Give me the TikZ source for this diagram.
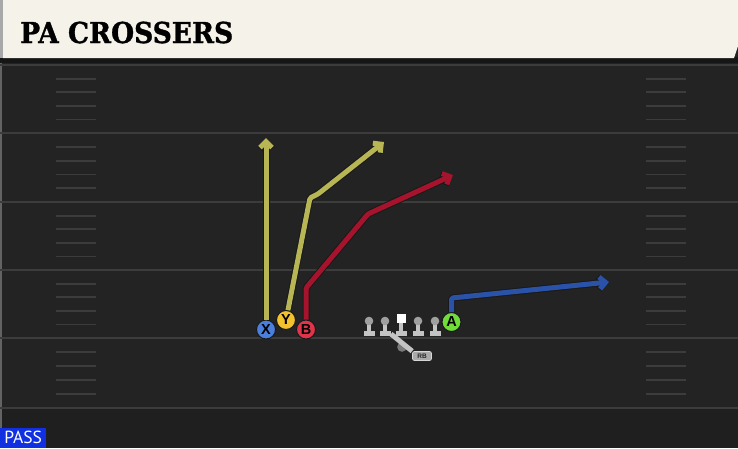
\documentclass[tikz,border=0pt]{standalone}
\usepackage{fontspec}
\newfontfamily\titlefont{DejaVu Serif}[FakeStretch=0.92,FakeBold=1.2]
\newfontfamily\passfont{PT Sans}
\newfontfamily\jerseyfont{Liberation Sans}
\usetikzlibrary{arrows.meta}

% one route = dark edge underneath, colour on top
\newcommand{\playroute}[2]{%
  \draw[routeedge] #2;
  \draw[routeline=#1] #2;}

\tikzset{
  player/.style={circle, draw=black!90, line width=1pt, minimum size=19pt, inner sep=0pt,
                 font=\jerseyfont\bfseries\fontsize{14.5}{14.5}\selectfont, text=black},
  routeedge/.style={line width=7pt, draw=black!90, line join=round, rounded corners=1.5pt,
                    -{Straight Barb[length=6pt,width=12pt]}},
  routeline/.style={line width=5pt, draw=#1, line join=round, rounded corners=1.5pt,
                    -{Straight Barb[length=6pt,width=12pt]}},
  yardline/.style={line width=2pt, draw=fld_line},
  hash/.style={line width=1.8pt, draw=fld_line},
  lineman/.pic={
    \fill[ol_body] (-2,0) rectangle (2,11);
    \fill[ol_body] (-5.5,10) rectangle (5.5,14.5);
    \fill[ol_head] (0,0) circle (4.3);},
  snapper/.pic={
    \fill[ol_body] (-2,1) rectangle (2,11);
    \fill[ol_body] (-5.5,10) rectangle (5.5,14.5);
    \fill[white] (-4.5,-7.5) rectangle (4.5,1.5);},
  rbtag/.style={rounded corners=2pt, fill=rb_tag, draw=rb_edge, line width=0.7pt,
                minimum width=19pt, minimum height=9pt, inner sep=0pt,
                font=\jerseyfont\bfseries\fontsize{6.5}{6.5}\selectfont, text=black!85},
  rbpath/.style={line width=5pt, draw=ol_body},
  passtag/.style={fill=pass_blue, text=white, minimum width=46pt, minimum height=20pt, inner sep=0pt,
                  font=\passfont\fontsize{17.5}{17.5}\selectfont},
}

\begin{document}
\begin{tikzpicture}[x=1pt,y=-1pt]

% ------------------------------------------------ playbook colors
\definecolor{fld_dark}{RGB}{35,35,35}      %#232323
\definecolor{fld_low}{RGB}{31,31,31}       %#1F1F1F
\definecolor{fld_line}{RGB}{60,60,60}      %#3C3C3C
\definecolor{hdr_cream}{RGB}{245,242,234}  %#F5F2EA
\definecolor{hdr_gray}{RGB}{168,168,168}   %#A8A8A8
\definecolor{hdr_shadow}{RGB}{22,22,22}    %#161616
\definecolor{rt_olive}{RGB}{184,182,84}    %#B8B654
\definecolor{rt_red}{RGB}{166,19,44}       %#A6132C
\definecolor{rt_blue}{RGB}{42,82,168}      %#2A52A8
\definecolor{pl_blue}{RGB}{74,127,220}     %#4A7FDC
\definecolor{pl_yellow}{RGB}{242,193,46}   %#F2C12E
\definecolor{pl_red}{RGB}{224,52,74}       %#E0344A
\definecolor{pl_green}{RGB}{111,220,58}    %#6FDC3A
\definecolor{ol_body}{RGB}{196,196,196}    %#C4C4C4
\definecolor{ol_head}{RGB}{160,160,160}    %#A0A0A0
\definecolor{rb_gray}{RGB}{122,122,122}    %#7A7A7A
\definecolor{rb_tag}{RGB}{170,170,170}     %#AAAAAA
\definecolor{rb_edge}{RGB}{215,215,215}    %#D7D7D7
\definecolor{pass_blue}{RGB}{16,48,226}    %#1030E2

\useasboundingbox (0,0) rectangle (738,448);

% field
  \fill[fld_dark] (0,0) rectangle (738,448);
  \fill[fld_low] (0,408) rectangle (738,448);
  \draw[line width=1.5pt,draw=fld_line!80] (1,60) -- (1,448);

% yard lines and hash marks
  \foreach \yl in {65,133,202,270,338,408}
    \draw[yardline] (0,\yl) -- (738,\yl);
  \foreach \ya/\yb in {65/133,133/202,202/270,270/338,338/408}
    \foreach \k in {1,...,4} {
      \draw[hash] (56,{\ya+\k*(\yb-\ya)/5}) -- (96,{\ya+\k*(\yb-\ya)/5});
      \draw[hash] (646,{\ya+\k*(\yb-\ya)/5}) -- (686,{\ya+\k*(\yb-\ya)/5});
    }

% header
  \fill[hdr_shadow] (0,57) rectangle (738,63);
  \fill[hdr_cream] (3,0) -- (738,0) -- (738,46) -- (734,58) -- (3,58) -- cycle;
  \fill[hdr_gray] (0,0) rectangle (3,58);
  \node[anchor=base west, inner sep=0pt, text=black,
        font=\titlefont\bfseries\fontsize{28.8}{30}\selectfont] (title) at (20,43) {PA CROSSERS};

% offensive line
  \foreach \olx in {369,385,418,435}
    \pic at (\olx,321) {lineman};
  \pic at (401,321) {snapper};

% running back
  \fill[rb_gray] (402,347) circle (4.8);
  \coordinate (handoff) at (391,334);
  \node[rbtag] (rb) at (422,356) {RB};
  \draw[rbpath] (handoff) -- (rb.north west);

% receivers
  \node[player, fill=pl_blue]   (X) at (266,329.5) {X};
  \node[player, fill=pl_yellow] (Y) at (286,320)   {Y};
  \node[player, fill=pl_red]    (B) at (306,329.5) {B};
  \node[player, fill=pl_green]  (A) at (451.5,322) {A};

% route points
  \coordinate (xTop) at (266,138);
  \coordinate (yBreak) at (310,198);
  \coordinate (yKink) at (318,194);
  \coordinate (yEnd) at (384,142);
  \coordinate (bStem) at (306,288);
  \coordinate (bBreak) at (368,214);
  \coordinate (bEnd) at (453,175);
  \coordinate (aStem) at (451.5,298);
  \coordinate (aEnd) at (609,282);

% routes
  \playroute{rt_olive}{(X) -- (xTop)}
  \playroute{rt_olive}{(Y) -- (yBreak) -- (yKink) -- (yEnd)}
  \playroute{rt_red}{(B) -- (bStem) -- (bBreak) -- (bEnd)}
  \playroute{rt_blue}{(A) -- (aStem) -- (aEnd)}

% play type
  \node[passtag, anchor=south west] (pass) at (0,448) {PASS};

\end{tikzpicture}
\end{document}
